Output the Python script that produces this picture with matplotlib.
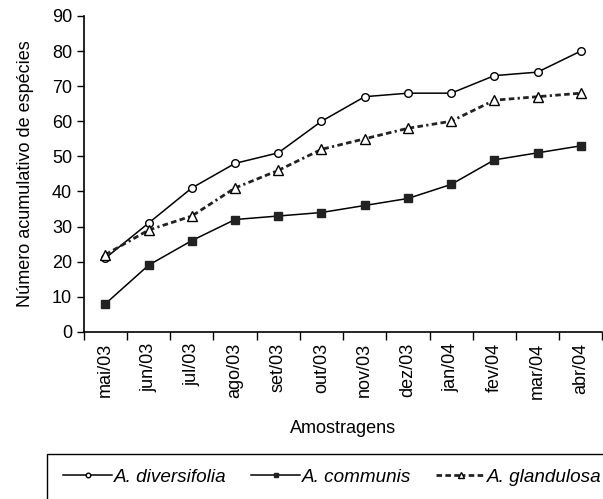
import matplotlib
matplotlib.use('Agg')
import matplotlib.pyplot as plt
from matplotlib.patches import Rectangle
import numpy as np

plt.rcParams['font.family'] = ['Liberation Sans', 'DejaVu Sans']

meses = ['mai/03', 'jun/03', 'jul/03', 'ago/03', 'set/03', 'out/03',
         'nov/03', 'dez/03', 'jan/04', 'fev/04', 'mar/04', 'abr/04']
diversifolia = [21, 31, 41, 48, 51, 60, 67, 68, 68, 73, 74, 80]
communis = [8, 19, 26, 32, 33, 34, 36, 38, 42, 49, 51, 53]
glandulosa = [22, 29, 33, 41, 46, 52, 55, 58, 60, 66, 67, 68]

fs = 13
x = np.arange(len(meses))

fig = plt.figure(figsize=(6.03, 4.99), dpi=100)
ax = fig.add_axes([0.139, 0.335, 0.86, 0.633])

l1, = ax.plot(x, diversifolia, color='black', lw=1.1, marker='o', ms=5.5,
              mfc='white', mec='black', mew=1.0)
l2, = ax.plot(x, communis, color='black', lw=1.1, marker='s', ms=6,
              mfc='#222222', mec='#222222')
l3, = ax.plot(x, glandulosa, color='#222222', lw=2.0,
              linestyle=(0, (2.0, 1.2, 2.0, 1.2, 2.0, 1.2, 0.8, 1.2)),
              marker='^', ms=6.5, mfc='white', mec='black', mew=1.0)

ax.set_xlim(-0.5, len(meses) - 0.5)
ax.set_ylim(0, 90)
ax.set_yticks(range(0, 91, 10))
ax.tick_params(axis='y', labelsize=fs, length=5, width=1, direction='out')

# ticks nas divisas das categorias, rótulos no centro
ax.set_xticks(np.arange(-0.5, len(meses), 1.0))
ax.set_xticklabels([])
ax.tick_params(axis='x', which='major', length=6, width=1, direction='out')
ax.set_xticks(x, minor=True)
ax.set_xticklabels(meses, minor=True, rotation=90, fontsize=fs)
ax.tick_params(axis='x', which='minor', length=0, pad=8)

for s in ['top', 'right']:
    ax.spines[s].set_visible(False)
ax.spines['left'].set_linewidth(1.2)
ax.spines['bottom'].set_linewidth(1.2)

ax.set_ylabel('Número acumulativo de espécies', fontsize=fs, labelpad=13)
ax.set_xlabel('Amostragens', fontsize=fs, labelpad=15)

# caixa da legenda
fig.patches.append(Rectangle((47 / 603, -0.1), 1.0, 0.1 + 45 / 499,
                             transform=fig.transFigure, fill=False,
                             edgecolor='black', lw=1.0))
fig.legend([l1, l2, l3], ['A. diversifolia', 'A. communis', 'A. glandulosa'],
           loc='center left', bbox_to_anchor=(46 / 603, 22 / 499), ncol=3,
           frameon=False, handlelength=2.6, handletextpad=0.1,
           columnspacing=1.3, markerscale=0.6,
           prop={'style': 'italic', 'size': 13.6})

fig.savefig('out.png', dpi=100)
